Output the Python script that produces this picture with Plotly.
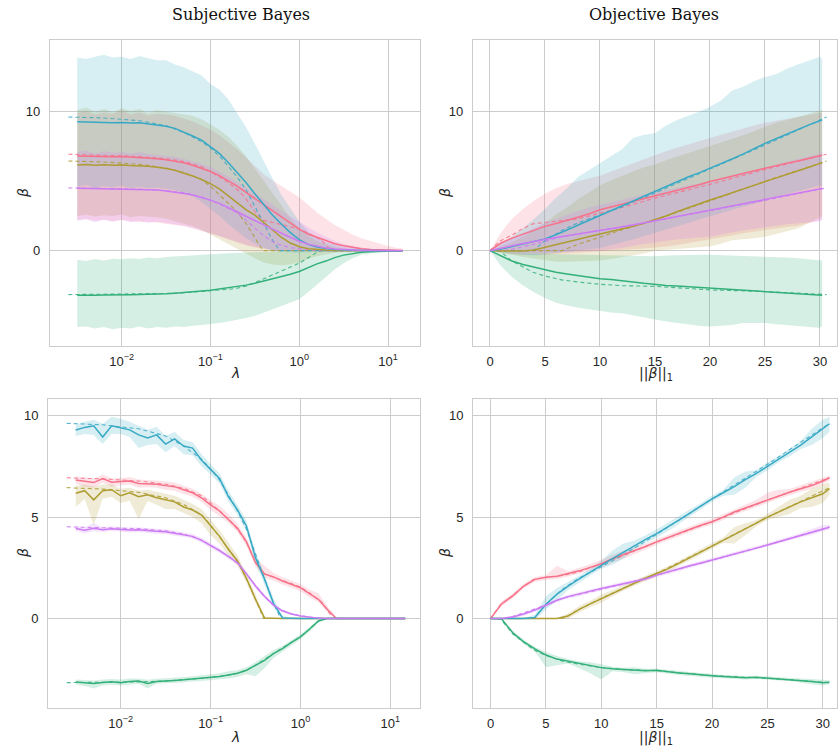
import plotly.graph_objects as go

# ---------------- colours (seaborn husl, 5) ----------------
COLORS = {"pink": "#f77189", "olive": "#ae9d31", "green": "#33b07a",
          "cyan": "#38a9c5", "purple": "#cc7af4"}
ORDER = ["pink", "olive", "green", "cyan", "purple"]

# ---------------- left panels: log10(lambda) grid ----------------
LOG_LAM = [-2.5, -2.4, -2.3, -2.2, -2.1, -2.0, -1.9, -1.8, -1.7, -1.6, -1.5, -1.4, -1.3,
           -1.2, -1.1, -1.0, -0.9, -0.8, -0.7, -0.6, -0.5, -0.4, -0.3, -0.2, -0.1, 0.0,
           0.1, 0.2, 0.3, 0.4, 0.5, 0.6, 0.7, 0.8, 0.9, 1.0, 1.1, 1.165]

# Top-left (subjective Bayes): posterior medians and bands
TL_CYAN = [9.28, 9.25, 9.22, 9.24, 9.2, 9.22, 9.18, 9.2, 9.12, 9.05, 8.95, 8.8, 8.55, 8.25, 7.95, 7.5, 7.0, 6.35, 5.65, 4.9, 4.1, 3.3, 2.55, 1.9, 1.3, 0.8, 0.45, 0.27, 0.15, 0.09, 0.05, 0.03, 0.02, 0.01, 0.01, 0.0, 0.0, 0.0]
TL_CYAN_HI = [13.9, 13.8, 13.95, 14.1, 13.9, 13.95, 13.8, 14.0, 13.85, 13.7, 13.7, 13.4, 13.2, 12.9, 12.6, 12.0, 11.6, 10.9, 9.9, 8.9, 7.7, 6.4, 5.2, 4.0, 3.0, 2.1, 1.4, 0.95, 0.6, 0.4, 0.25, 0.15, 0.1, 0.06, 0.04, 0.02, 0.01, 0.01]
TL_CYAN_LO = [4.6, 4.75, 4.5, 4.65, 4.55, 4.7, 4.5, 4.6, 4.5, 4.55, 4.45, 4.35, 4.15, 3.9, 3.5, 3.0, 2.5, 1.9, 1.4, 0.9, 0.5, 0.2, 0.0, -0.1, -0.15, -0.15, -0.12, -0.1, -0.07, -0.05, -0.03, -0.02, -0.02, -0.01, -0.01, -0.01, 0.0, 0.0]
TL_PINK = [6.82, 6.8, 6.78, 6.8, 6.76, 6.78, 6.74, 6.72, 6.7, 6.62, 6.55, 6.45, 6.32, 6.15, 5.95, 5.7, 5.4, 5.05, 4.65, 4.2, 3.75, 3.3, 2.85, 2.4, 1.95, 1.55, 1.2, 0.95, 0.72, 0.5, 0.35, 0.22, 0.14, 0.08, 0.05, 0.03, 0.01, 0.01]
TL_PINK_HI = [9.9, 10.05, 9.8, 9.95, 9.85, 10.1, 9.8, 9.95, 9.75, 9.85, 9.8, 9.7, 9.5, 9.3, 9.0, 8.7, 8.3, 7.8, 7.3, 6.7, 6.1, 5.5, 5.05, 4.65, 4.25, 3.85, 3.3, 2.75, 2.3, 1.85, 1.5, 1.15, 0.9, 0.7, 0.5, 0.33, 0.2, 0.15]
TL_PINK_LO = [2.2, 2.3, 2.15, 2.25, 2.1, 2.2, 2.15, 2.05, 2.1, 2.0, 1.95, 1.85, 1.75, 1.6, 1.45, 1.25, 1.05, 0.8, 0.58, 0.38, 0.22, 0.1, 0.03, -0.02, -0.04, -0.04, -0.04, -0.03, -0.03, -0.02, -0.02, -0.01, -0.01, -0.01, 0.0, 0.0, 0.0, 0.0]
TL_OLIVE = [6.17, 6.2, 6.15, 6.18, 6.14, 6.16, 6.12, 6.1, 6.08, 6.0, 5.92, 5.78, 5.6, 5.38, 5.12, 4.82, 4.45, 3.95, 3.45, 2.95, 2.55, 2.0, 1.45, 0.95, 0.55, 0.28, 0.14, 0.07, 0.04, 0.02, 0.01, 0.01, 0.0, 0.0, 0.0, 0.0, 0.0, 0.0]
TL_OLIVE_HI = [10.1, 10.3, 10.0, 10.2, 9.95, 10.25, 10.05, 10.2, 9.9, 10.1, 10.0, 9.9, 9.8, 9.7, 9.45, 9.1, 8.7, 8.2, 7.55, 6.8, 5.9, 5.0, 4.1, 3.2, 2.35, 1.6, 1.1, 0.7, 0.45, 0.25, 0.15, 0.08, 0.05, 0.03, 0.02, 0.01, 0.01, 0.0]
TL_OLIVE_LO = [2.5, 2.6, 2.45, 2.55, 2.5, 2.6, 2.4, 2.5, 2.45, 2.4, 2.3, 2.1, 1.95, 1.75, 1.5, 1.15, 0.8, 0.45, 0.15, -0.2, -0.55, -0.85, -1.0, -1.05, -1.0, -0.85, -0.6, -0.4, -0.25, -0.15, -0.08, -0.04, -0.02, -0.01, -0.01, 0.0, 0.0, 0.0]
TL_PURPLE = [4.5, 4.49, 4.48, 4.47, 4.46, 4.45, 4.44, 4.42, 4.4, 4.36, 4.3, 4.22, 4.12, 4.0, 3.84, 3.64, 3.4, 3.12, 2.8, 2.48, 2.15, 1.85, 1.55, 1.25, 0.95, 0.68, 0.47, 0.32, 0.2, 0.12, 0.07, 0.04, 0.02, 0.01, 0.01, 0.0, 0.0, 0.0]
TL_PURPLE_HI = [7.1, 7.2, 7.0, 7.15, 7.05, 7.1, 7.0, 7.1, 6.95, 6.9, 6.85, 6.75, 6.6, 6.45, 6.25, 6.0, 5.7, 5.35, 4.95, 4.55, 4.1, 3.7, 3.3, 2.85, 2.45, 2.05, 1.65, 1.3, 1.0, 0.72, 0.5, 0.34, 0.22, 0.14, 0.09, 0.05, 0.03, 0.02]
TL_PURPLE_LO = [2.15, 2.25, 2.05, 2.2, 2.1, 2.25, 2.05, 2.15, 2.0, 2.1, 2.0, 1.9, 1.8, 1.65, 1.5, 1.3, 1.1, 0.85, 0.65, 0.45, 0.28, 0.15, 0.06, 0.0, -0.03, -0.04, -0.04, -0.03, -0.02, -0.02, -0.01, -0.01, 0.0, 0.0, 0.0, 0.0, 0.0, 0.0]
TL_GREEN = [-3.2, -3.22, -3.2, -3.19, -3.2, -3.18, -3.17, -3.16, -3.15, -3.12, -3.1, -3.06, -3.02, -2.97, -2.9, -2.84, -2.76, -2.68, -2.6, -2.48, -2.35, -2.2, -2.05, -1.88, -1.7, -1.5, -1.22, -0.95, -0.75, -0.5, -0.32, -0.2, -0.12, -0.07, -0.04, -0.02, -0.01, 0.0]
TL_GREEN_HI = [-0.65, -0.75, -0.6, -0.7, -0.58, -0.62, -0.55, -0.6, -0.5, -0.55, -0.45, -0.42, -0.38, -0.35, -0.3, -0.28, -0.22, -0.18, -0.15, -0.12, -0.1, -0.08, -0.07, -0.06, -0.05, -0.04, -0.03, -0.03, -0.02, -0.02, -0.01, -0.01, -0.01, 0.0, 0.0, 0.0, 0.0, 0.0]
TL_GREEN_LO = [-5.5, -5.45, -5.6, -5.5, -5.65, -5.55, -5.6, -5.45, -5.6, -5.5, -5.55, -5.45, -5.5, -5.4, -5.35, -5.3, -5.2, -5.1, -5.0, -4.85, -4.7, -4.45, -4.2, -3.95, -3.75, -3.5, -3.0, -2.5, -1.9, -1.35, -0.9, -0.55, -0.3, -0.18, -0.1, -0.05, -0.02, -0.01]

# Bottom-left: estimates and narrow bands
BL_CYAN = [9.29, 9.42, 9.5, 8.95, 9.5, 9.4, 9.3, 9.05, 8.9, 9.05, 8.6, 8.85, 8.5, 8.4, 7.8, 7.35, 6.9, 6.0, 5.35, 4.55, 3.0, 1.95, 0.75, 0.03, 0, 0, 0, 0, 0, 0, 0, 0, 0, 0, 0, 0, 0, 0]
BL_CYAN_HI = [9.55, 9.7, 9.8, 9.6, 9.95, 9.85, 9.7, 9.5, 9.3, 9.45, 9.0, 9.2, 8.8, 8.7, 8.1, 7.6, 7.15, 6.3, 5.6, 4.8, 3.3, 2.2, 1.0, 0.15, 0.02, 0.01, 0, 0, 0, 0, 0, 0, 0, 0, 0, 0, 0, 0]
BL_CYAN_LO = [9.0, 9.1, 9.05, 8.6, 9.1, 9.1, 8.95, 8.4, 8.55, 8.6, 8.2, 8.5, 8.1, 8.05, 7.5, 7.1, 6.65, 5.75, 5.1, 4.3, 2.75, 1.7, 0.55, 0.0, 0, 0, 0, 0, 0, 0, 0, 0, 0, 0, 0, 0, 0, 0]
BL_PINK = [6.83, 6.75, 6.7, 6.9, 6.72, 6.75, 6.78, 6.66, 6.65, 6.62, 6.55, 6.5, 6.35, 6.2, 5.95, 5.6, 5.3, 4.9, 4.45, 3.78, 2.75, 2.2, 2.05, 1.85, 1.7, 1.52, 1.23, 0.95, 0.44, 0.0, 0, 0, 0, 0, 0, 0, 0, 0]
BL_PINK_HI = [7.0, 6.95, 6.9, 7.1, 6.92, 6.93, 6.97, 6.85, 6.83, 6.8, 6.75, 6.7, 6.55, 6.4, 6.15, 5.85, 5.55, 5.15, 4.65, 3.98, 2.95, 2.6, 2.25, 2.03, 1.88, 1.7, 1.42, 1.25, 0.6, 0.05, 0.01, 0, 0, 0, 0, 0, 0, 0]
BL_PINK_LO = [6.65, 6.5, 6.45, 6.7, 6.5, 6.57, 6.6, 6.45, 6.47, 6.44, 6.35, 6.3, 6.15, 6.0, 5.75, 5.35, 5.05, 4.7, 4.25, 3.58, 2.55, 2.0, 1.87, 1.67, 1.52, 1.34, 1.05, 0.8, 0.3, 0.0, 0, 0, 0, 0, 0, 0, 0, 0]
BL_OLIVE = [6.17, 6.3, 5.85, 6.3, 6.35, 6.05, 6.2, 6.0, 6.1, 5.95, 5.85, 5.75, 5.5, 5.35, 5.1, 4.55, 4.05, 3.4, 2.85, 1.97, 0.95, 0.03, 0, 0, 0, 0, 0, 0, 0, 0, 0, 0, 0, 0, 0, 0, 0, 0]
BL_OLIVE_HI = [6.55, 6.6, 6.5, 6.6, 6.6, 6.4, 6.45, 6.3, 6.35, 6.25, 6.15, 6.05, 5.85, 5.65, 5.4, 4.9, 4.35, 3.75, 3.1, 2.2, 1.2, 0.1, 0, 0, 0, 0, 0, 0, 0, 0, 0, 0, 0, 0, 0, 0, 0, 0]
BL_OLIVE_LO = [5.5, 5.9, 4.6, 5.9, 6.0, 5.7, 5.8, 4.9, 5.8, 5.6, 5.4, 5.4, 5.2, 5.0, 4.7, 4.1, 3.7, 3.1, 2.6, 1.75, 0.75, 0.0, 0, 0, 0, 0, 0, 0, 0, 0, 0, 0, 0, 0, 0, 0, 0, 0]
BL_PURPLE = [4.44, 4.35, 4.45, 4.38, 4.43, 4.4, 4.36, 4.38, 4.33, 4.3, 4.28, 4.2, 4.15, 4.05, 3.85, 3.6, 3.35, 3.05, 2.75, 2.2, 1.6, 1.1, 0.66, 0.38, 0.22, 0.13, 0.07, 0.02, 0, 0, 0, 0, 0, 0, 0, 0, 0, 0]
BL_PURPLE_HI = [4.56, 4.5, 4.7, 4.5, 4.55, 4.52, 4.48, 4.5, 4.45, 4.42, 4.4, 4.32, 4.27, 4.17, 3.97, 3.72, 3.47, 3.17, 2.87, 2.32, 1.72, 1.2, 0.74, 0.45, 0.27, 0.17, 0.1, 0.04, 0.01, 0, 0, 0, 0, 0, 0, 0, 0, 0]
BL_PURPLE_LO = [4.32, 4.2, 4.3, 4.26, 4.31, 4.28, 4.24, 4.26, 4.21, 4.18, 4.16, 4.08, 4.03, 3.93, 3.73, 3.48, 3.23, 2.93, 2.63, 2.08, 1.48, 1.0, 0.58, 0.31, 0.17, 0.09, 0.04, 0.0, 0, 0, 0, 0, 0, 0, 0, 0, 0, 0]
BL_GREEN = [-3.13, -3.18, -3.2, -3.15, -3.12, -3.16, -3.1, -3.08, -3.2, -3.1, -3.06, -3.05, -3.02, -2.98, -2.94, -2.9, -2.86, -2.78, -2.7, -2.55, -2.3, -2.06, -1.73, -1.48, -1.18, -0.9, -0.53, -0.12, 0, 0, 0, 0, 0, 0, 0, 0, 0, 0]
BL_GREEN_HI = [-3.0, -3.02, -3.05, -3.0, -2.98, -3.0, -2.95, -2.95, -3.02, -2.97, -2.93, -2.92, -2.88, -2.85, -2.8, -2.76, -2.7, -2.6, -2.55, -2.4, -2.15, -1.85, -1.55, -1.35, -1.05, -0.78, -0.42, -0.05, 0, 0, 0, 0, 0, 0, 0, 0, 0, 0]
BL_GREEN_LO = [-3.26, -3.32, -3.45, -3.3, -3.26, -3.3, -3.25, -3.22, -3.45, -3.22, -3.19, -3.18, -3.15, -3.11, -3.08, -3.04, -3.0, -2.95, -2.88, -2.75, -2.85, -2.45, -1.95, -1.62, -1.32, -1.02, -0.65, -0.2, 0, 0, 0, 0, 0, 0, 0, 0, 0, 0]

# Lasso path (dashed) against log10(lambda)
LASSO_LOG = [-2.6, -2.2, -1.8, -1.5, -1.3, -1.1, -1.0, -0.9, -0.8, -0.7, -0.6, -0.5, -0.41,
             -0.3, -0.22, -0.1, 0.0, 0.1, 0.2, 0.25, 0.36, 0.6, 1.165]
LASSO_CYAN = [9.62, 9.55, 9.35, 9.0, 8.5, 7.85, 7.38, 6.82, 6.08, 5.3, 4.4, 3.2, 2.05, 0.75, 0.0, 0, 0, 0, 0, 0, 0, 0, 0]
LASSO_PINK = [6.94, 6.88, 6.78, 6.62, 6.42, 6.05, 5.7, 5.32, 4.9, 4.4, 3.75, 2.8, 2.2, 2.05, 1.9, 1.72, 1.55, 1.27, 0.95, 0.75, 0.0, 0.0, 0.0]
LASSO_OLIVE = [6.45, 6.38, 6.22, 5.95, 5.62, 5.12, 4.62, 4.05, 3.42, 2.8, 1.95, 0.95, 0.0, 0, 0, 0, 0, 0, 0, 0, 0, 0, 0]
LASSO_PURPLE = [4.52, 4.49, 4.43, 4.32, 4.17, 3.87, 3.62, 3.36, 3.06, 2.72, 2.2, 1.6, 1.12, 0.66, 0.42, 0.22, 0.13, 0.07, 0.0, 0.0, 0.0, 0.0, 0.0]
LASSO_GREEN = [-3.16, -3.15, -3.12, -3.08, -3.03, -2.95, -2.9, -2.85, -2.78, -2.7, -2.55, -2.3, -2.06, -1.73, -1.5, -1.18, -0.9, -0.53, -0.12, 0.0, 0.0, 0.0, 0.0]

# ---------------- right panels: ||beta||_1 grid ----------------
TR_L1 = [0, 1, 2, 3, 4, 5, 6, 7, 8, 9, 10, 11, 12, 13, 14, 15, 16, 17, 18, 19, 20,
         21, 22, 23, 24, 25, 26, 27, 28, 29, 30, 30.2]
TR_CYAN = [0, 0.12, 0.3, 0.5, 0.7, 0.85, 1.15, 1.5, 1.85, 2.2, 2.5, 2.85, 3.2, 3.55, 3.9, 4.25, 4.6, 4.95, 5.3, 5.6, 5.92, 6.25, 6.6, 6.95, 7.35, 7.72, 8.05, 8.4, 8.72, 9.05, 9.35, 9.42]
TR_CYAN_HI = [0, 0.5, 1.0, 1.6, 2.3, 3.0, 3.8, 4.5, 5.3, 5.8, 6.3, 6.8, 7.3, 8.1, 8.35, 8.45, 9.0, 9.4, 9.7, 10.0, 10.36, 10.8, 11.5, 11.8, 12.2, 12.5, 12.7, 13.1, 13.4, 13.7, 13.95, 13.8]
TR_CYAN_LO = [0, -0.1, -0.2, -0.3, -0.35, -0.3, -0.2, -0.1, 0.0, 0.1, 0.2, 0.4, 0.6, 0.8, 1.0, 1.3, 1.5, 1.75, 2.0, 2.25, 2.5, 2.7, 2.95, 3.2, 3.4, 3.6, 3.85, 4.1, 4.3, 4.5, 4.7, 4.6]
TR_PINK = [0, 0.55, 0.9, 1.2, 1.5, 1.75, 1.95, 2.15, 2.4, 2.65, 2.94, 3.15, 3.35, 3.5, 3.7, 3.9, 4.1, 4.3, 4.55, 4.75, 4.98, 5.15, 5.35, 5.55, 5.75, 5.93, 6.1, 6.3, 6.45, 6.65, 6.82, 6.86]
TR_PINK_HI = [0, 1.3, 2.3, 3.0, 3.6, 4.1, 4.5, 4.8, 5.0, 5.2, 5.4, 5.7, 6.0, 6.3, 6.6, 6.9, 7.15, 7.4, 7.65, 7.9, 8.1, 8.35, 8.55, 8.8, 9.0, 9.2, 9.35, 9.5, 9.65, 9.8, 9.9, 9.9]
TR_PINK_LO = [0, -0.15, -0.25, -0.3, -0.3, -0.3, -0.25, -0.2, -0.15, -0.1, -0.1, 0.0, 0.05, 0.1, 0.15, 0.2, 0.3, 0.4, 0.55, 0.7, 0.8, 0.95, 1.1, 1.25, 1.4, 1.5, 1.6, 1.7, 1.8, 2.0, 2.2, 2.25]
TR_OLIVE = [0, -0.02, -0.04, -0.03, 0.05, 0.25, 0.45, 0.65, 0.85, 1.05, 1.2, 1.38, 1.55, 1.75, 1.98, 2.22, 2.5, 2.8, 3.1, 3.38, 3.65, 3.9, 4.15, 4.42, 4.7, 4.97, 5.22, 5.5, 5.75, 6.0, 6.28, 6.32]
TR_OLIVE_HI = [0, 0.3, 0.6, 1.0, 1.5, 2.0, 2.6, 3.1, 3.7, 4.2, 4.7, 5.05, 5.4, 5.7, 6.0, 6.2, 6.5, 6.75, 7.0, 7.25, 7.5, 7.75, 8.0, 8.3, 8.6, 8.9, 9.2, 9.4, 9.6, 9.85, 10.1, 10.1]
TR_OLIVE_LO = [0, -0.15, -0.3, -0.45, -0.6, -0.7, -0.8, -0.8, -0.8, -0.75, -0.7, -0.6, -0.5, -0.35, -0.2, 0.0, 0.1, 0.15, 0.2, 0.25, 0.3, 0.5, 0.75, 0.85, 0.9, 1.0, 1.2, 1.4, 1.6, 2.0, 2.4, 2.5]
TR_PURPLE = [0, 0.15, 0.35, 0.52, 0.68, 0.82, 0.95, 1.08, 1.2, 1.3, 1.42, 1.55, 1.7, 1.85, 2.0, 2.15, 2.3, 2.45, 2.62, 2.78, 2.94, 3.1, 3.25, 3.4, 3.55, 3.7, 3.85, 4.0, 4.15, 4.3, 4.45, 4.48]
TR_PURPLE_HI = [0, 0.5, 0.9, 1.3, 1.65, 2.0, 2.3, 2.6, 2.85, 3.1, 3.3, 3.5, 3.7, 3.9, 4.05, 4.2, 4.35, 4.5, 4.65, 4.8, 5.0, 5.2, 5.4, 5.6, 5.8, 6.0, 6.2, 6.4, 6.6, 6.8, 7.0, 7.1]
TR_PURPLE_LO = [0, -0.1, -0.15, -0.2, -0.2, -0.2, -0.15, -0.1, -0.05, 0.0, 0.0, 0.1, 0.2, 0.35, 0.5, 0.6, 0.7, 0.8, 0.9, 0.95, 1.0, 1.15, 1.3, 1.45, 1.6, 1.7, 1.8, 1.9, 2.0, 2.05, 2.1, 2.15]
TR_GREEN = [0, -0.4, -0.75, -1.0, -1.2, -1.38, -1.55, -1.68, -1.8, -1.92, -2.02, -2.08, -2.15, -2.25, -2.35, -2.45, -2.5, -2.55, -2.6, -2.64, -2.68, -2.72, -2.75, -2.8, -2.86, -2.92, -2.96, -3.0, -3.06, -3.12, -3.16, -3.2]
TR_GREEN_HI = [0, -0.1, -0.15, -0.2, -0.22, -0.25, -0.27, -0.28, -0.29, -0.3, -0.3, -0.32, -0.35, -0.38, -0.4, -0.4, -0.35, -0.32, -0.3, -0.3, -0.29, -0.32, -0.35, -0.38, -0.4, -0.4, -0.45, -0.5, -0.55, -0.6, -0.65, -0.7]
TR_GREEN_LO = [0, -1.1, -1.9, -2.5, -3.0, -3.4, -3.75, -3.95, -4.1, -4.25, -4.35, -4.45, -4.5, -4.6, -4.8, -4.95, -5.1, -5.25, -5.3, -5.4, -5.45, -5.4, -5.35, -5.2, -5.2, -5.2, -5.3, -5.35, -5.4, -5.5, -5.55, -5.4]

BR_L1 = [0, 1, 2, 3, 4, 5, 6, 7, 8, 9, 10, 11, 12, 13, 14, 15, 16, 17, 18, 19, 20,
         21, 22, 23, 24, 25, 26, 27, 28, 29, 30, 30.6]
BR_PINK = [0, 0.72, 1.12, 1.6, 1.93, 2.03, 2.08, 2.2, 2.35, 2.52, 2.7, 2.95, 3.15, 3.33, 3.55, 3.78, 4.0, 4.2, 4.4, 4.6, 4.77, 5.0, 5.25, 5.45, 5.65, 5.84, 6.05, 6.22, 6.4, 6.55, 6.78, 6.94]
BR_PINK_HI = [0, 0.85, 1.25, 1.72, 2.05, 2.15, 2.6, 2.33, 2.5, 2.68, 2.9, 3.15, 3.35, 3.5, 3.7, 3.92, 4.14, 4.34, 4.54, 4.74, 4.9, 5.14, 5.4, 5.6, 5.85, 6.2, 6.35, 6.38, 6.55, 6.75, 6.95, 7.05]
BR_PINK_LO = [0, 0.6, 1.0, 1.48, 1.81, 1.9, 1.95, 2.07, 2.2, 2.36, 2.5, 2.75, 2.95, 3.16, 3.4, 3.64, 3.86, 4.06, 4.26, 4.46, 4.63, 4.86, 5.1, 5.3, 5.5, 5.7, 5.9, 6.06, 6.25, 6.38, 6.6, 6.8]
BR_CYAN = [0, 0, 0, 0, 0.05, 0.7, 1.2, 1.6, 1.95, 2.3, 2.62, 2.95, 3.28, 3.6, 3.9, 4.18, 4.5, 4.85, 5.2, 5.55, 5.9, 6.2, 6.5, 6.85, 7.15, 7.5, 7.85, 8.2, 8.55, 8.95, 9.35, 9.6]
BR_CYAN_HI = [0, 0, 0, 0.02, 0.2, 1.1, 1.5, 1.8, 2.12, 2.45, 2.85, 3.35, 3.7, 3.85, 4.1, 4.4, 4.72, 5.05, 5.38, 5.7, 6.05, 6.35, 6.95, 7.25, 7.32, 7.7, 8.0, 8.38, 8.75, 9.35, 9.8, 9.95]
BR_CYAN_LO = [0, 0, 0, -0.02, -0.05, 0.45, 0.9, 1.4, 1.78, 2.12, 2.45, 2.65, 2.95, 3.4, 3.72, 3.98, 4.3, 4.65, 5.02, 5.38, 5.75, 6.05, 6.1, 6.45, 6.98, 7.3, 7.7, 8.0, 8.35, 8.55, 8.9, 9.2]
BR_OLIVE = [0, 0, 0, 0, 0, 0, 0, 0.12, 0.45, 0.72, 0.98, 1.25, 1.5, 1.75, 2.0, 2.22, 2.45, 2.72, 3.0, 3.3, 3.58, 3.85, 4.1, 4.4, 4.7, 5.0, 5.25, 5.5, 5.75, 5.95, 6.15, 6.4]
BR_OLIVE_HI = [0, 0.01, 0.01, 0.01, 0.01, 0.01, 0.02, 0.25, 0.62, 0.88, 1.18, 1.4, 1.63, 1.88, 2.12, 2.35, 2.58, 2.85, 3.15, 3.45, 3.72, 3.98, 4.5, 4.7, 4.85, 5.15, 5.5, 5.85, 6.05, 6.4, 6.6, 6.7]
BR_OLIVE_LO = [0, -0.01, -0.01, -0.01, -0.01, -0.01, -0.02, 0.0, 0.3, 0.57, 0.78, 1.1, 1.37, 1.62, 1.88, 2.09, 2.32, 2.59, 2.85, 3.15, 3.44, 3.72, 3.7, 4.1, 4.55, 4.85, 5.0, 5.15, 5.45, 5.5, 5.7, 6.1]
BR_PURPLE = [0, 0, 0.08, 0.22, 0.42, 0.65, 0.9, 1.08, 1.2, 1.35, 1.48, 1.6, 1.72, 1.82, 1.95, 2.14, 2.3, 2.45, 2.6, 2.74, 2.88, 3.02, 3.17, 3.32, 3.47, 3.62, 3.78, 3.95, 4.1, 4.27, 4.44, 4.5]
BR_PURPLE_HI = [0, 0.01, 0.15, 0.3, 0.5, 0.74, 0.98, 1.17, 1.3, 1.45, 1.58, 1.7, 1.82, 1.92, 2.05, 2.24, 2.4, 2.55, 2.7, 2.84, 2.98, 3.12, 3.27, 3.42, 3.57, 3.72, 3.88, 4.05, 4.22, 4.42, 4.6, 4.62]
BR_PURPLE_LO = [0, -0.01, 0.01, 0.14, 0.34, 0.56, 0.82, 0.99, 1.1, 1.25, 1.38, 1.5, 1.62, 1.72, 1.85, 2.04, 2.2, 2.35, 2.5, 2.64, 2.78, 2.92, 3.07, 3.22, 3.37, 3.52, 3.68, 3.85, 4.0, 4.12, 4.3, 4.38]
BR_GREEN = [0, -0.02, -0.7, -1.15, -1.5, -1.8, -2.0, -2.1, -2.22, -2.3, -2.42, -2.48, -2.52, -2.55, -2.58, -2.55, -2.62, -2.68, -2.72, -2.78, -2.82, -2.86, -2.88, -2.92, -2.9, -2.94, -2.96, -3.0, -3.05, -3.1, -3.16, -3.14]
BR_GREEN_HI = [0, 0.0, -0.6, -1.05, -1.4, -1.65, -1.85, -2.0, -2.1, -2.15, -2.25, -2.38, -2.42, -2.4, -2.48, -2.47, -2.52, -2.58, -2.62, -2.68, -2.72, -2.78, -2.8, -2.84, -2.82, -2.86, -2.88, -2.92, -2.96, -2.98, -3.04, -3.04]
BR_GREEN_LO = [0, -0.05, -0.8, -1.25, -1.62, -2.4, -2.3, -2.22, -2.45, -2.7, -3.0, -2.6, -2.65, -2.75, -2.7, -2.65, -2.72, -2.78, -2.82, -2.88, -2.92, -2.94, -2.96, -3.0, -2.98, -3.02, -3.05, -3.08, -3.15, -3.24, -3.3, -3.25]

# Lasso path (dashed) against ||beta||_1
LASSO_L1 = [0, 0.9, 2, 3, 3.9, 5, 6.5, 8, 10, 12, 15, 20, 25, 30.6]
L1_PINK = [0, 0.7, 1.12, 1.6, 1.93, 2.03, 2.12, 2.3, 2.7, 3.1, 3.78, 4.77, 5.84, 6.94]
L1_GREEN = [0, -0.02, -0.75, -1.18, -1.55, -1.82, -2.1, -2.25, -2.42, -2.52, -2.57, -2.82, -2.94, -3.16]
L1_PURPLE = [0, 0, 0.1, 0.28, 0.45, 0.66, 1.0, 1.2, 1.45, 1.7, 2.14, 2.88, 3.62, 4.52]
L1_CYAN = [0, 0, 0, 0, 0, 0.7, 1.45, 2.0, 2.55, 3.15, 4.15, 5.9, 7.6, 9.62]
L1_OLIVE = [0, 0, 0, 0, 0, 0, 0, 0.45, 1.0, 1.5, 2.22, 3.58, 5.0, 6.45]

# ---------------- assemble ----------------
LAM = [10 ** v for v in LOG_LAM]
LASSO_LAM = [10 ** v for v in LASSO_LOG]

panels = {
    "TL": dict(x=LAM, ax=("x", "y"),
               mean={"pink": TL_PINK, "olive": TL_OLIVE, "green": TL_GREEN, "cyan": TL_CYAN, "purple": TL_PURPLE},
               hi={"pink": TL_PINK_HI, "olive": TL_OLIVE_HI, "green": TL_GREEN_HI, "cyan": TL_CYAN_HI, "purple": TL_PURPLE_HI},
               lo={"pink": TL_PINK_LO, "olive": TL_OLIVE_LO, "green": TL_GREEN_LO, "cyan": TL_CYAN_LO, "purple": TL_PURPLE_LO},
               dx=LASSO_LAM,
               dash={"pink": LASSO_PINK, "olive": LASSO_OLIVE, "green": LASSO_GREEN, "cyan": LASSO_CYAN, "purple": LASSO_PURPLE}),
    "TR": dict(x=TR_L1, ax=("x2", "y2"),
               mean={"pink": TR_PINK, "olive": TR_OLIVE, "green": TR_GREEN, "cyan": TR_CYAN, "purple": TR_PURPLE},
               hi={"pink": TR_PINK_HI, "olive": TR_OLIVE_HI, "green": TR_GREEN_HI, "cyan": TR_CYAN_HI, "purple": TR_PURPLE_HI},
               lo={"pink": TR_PINK_LO, "olive": TR_OLIVE_LO, "green": TR_GREEN_LO, "cyan": TR_CYAN_LO, "purple": TR_PURPLE_LO},
               dx=LASSO_L1,
               dash={"pink": L1_PINK, "olive": L1_OLIVE, "green": L1_GREEN, "cyan": L1_CYAN, "purple": L1_PURPLE}),
    "BL": dict(x=LAM, ax=("x3", "y3"),
               mean={"pink": BL_PINK, "olive": BL_OLIVE, "green": BL_GREEN, "cyan": BL_CYAN, "purple": BL_PURPLE},
               hi={"pink": BL_PINK_HI, "olive": BL_OLIVE_HI, "green": BL_GREEN_HI, "cyan": BL_CYAN_HI, "purple": BL_PURPLE_HI},
               lo={"pink": BL_PINK_LO, "olive": BL_OLIVE_LO, "green": BL_GREEN_LO, "cyan": BL_CYAN_LO, "purple": BL_PURPLE_LO},
               dx=LASSO_LAM,
               dash={"pink": LASSO_PINK, "olive": LASSO_OLIVE, "green": LASSO_GREEN, "cyan": LASSO_CYAN, "purple": LASSO_PURPLE}),
    "BR": dict(x=BR_L1, ax=("x4", "y4"),
               mean={"pink": BR_PINK, "olive": BR_OLIVE, "green": BR_GREEN, "cyan": BR_CYAN, "purple": BR_PURPLE},
               hi={"pink": BR_PINK_HI, "olive": BR_OLIVE_HI, "green": BR_GREEN_HI, "cyan": BR_CYAN_HI, "purple": BR_PURPLE_HI},
               lo={"pink": BR_PINK_LO, "olive": BR_OLIVE_LO, "green": BR_GREEN_LO, "cyan": BR_CYAN_LO, "purple": BR_PURPLE_LO},
               dx=LASSO_L1,
               dash={"pink": L1_PINK, "olive": L1_OLIVE, "green": L1_GREEN, "cyan": L1_CYAN, "purple": L1_PURPLE}),
}

for name, p in panels.items():
    n = len(p["x"])
    for c in ORDER:
        for key in ("mean", "hi", "lo"):
            assert len(p[key][c]) == n, (name, c, key, len(p[key][c]), n)
        assert len(p["dash"][c]) == len(p["dx"]), (name, c, "dash")


def rgba(hexc, a):
    h = hexc.lstrip("#")
    return "rgba(%d,%d,%d,%.2f)" % (int(h[0:2], 16), int(h[2:4], 16), int(h[4:6], 16), a)


fig = go.Figure()
for name, p in panels.items():
    xa, ya = p["ax"]
    xs = p["x"]
    for c in ORDER:
        fig.add_trace(go.Scatter(
            x=list(xs) + list(xs)[::-1], y=list(p["hi"][c]) + list(p["lo"][c])[::-1],
            xaxis=xa, yaxis=ya, mode="lines", fill="toself",
            fillcolor=rgba(COLORS[c], 0.2), line=dict(width=0), hoverinfo="skip",
            showlegend=False))
    for c in ORDER:
        fig.add_trace(go.Scatter(
            x=p["dx"], y=p["dash"][c], xaxis=xa, yaxis=ya, mode="lines",
            line=dict(color=COLORS[c], width=1.1, dash="4px,3px"), opacity=0.85,
            showlegend=False))
    for c in ORDER:
        fig.add_trace(go.Scatter(
            x=xs, y=p["mean"][c], xaxis=xa, yaxis=ya, mode="lines",
            line=dict(color=COLORS[c], width=1.5), showlegend=False))

W, H = 838, 747
GRID = "#cccccc"
TICKFONT = dict(family="Liberation Sans, Arial, sans-serif", size=13, color="#262626")


def xd(a, b):
    return [a / W, b / W]


def yd(top, bottom):
    return [1 - bottom / H, 1 - top / H]


common = dict(showgrid=True, gridcolor=GRID, gridwidth=1, zeroline=False,
              showline=True, linecolor=GRID, linewidth=1.25, mirror=True,
              ticks="", tickfont=TICKFONT)

LOG_TICKS = [0.01, 0.1, 1, 10]
LOG_TEXT = ["10<sup>\u22122</sup>", "10<sup>\u22121</sup>", "10<sup>0</sup>", "10<sup>1</sup>"]
L1_TICKS = [0, 5, 10, 15, 20, 25, 30]

fig.update_layout(
    width=W, height=H, margin=dict(l=0, r=0, t=0, b=0),
    paper_bgcolor="white", plot_bgcolor="white", showlegend=False,
    xaxis=dict(domain=xd(50, 420), type="log", range=[-2.807, 1.36], anchor="y",
               tickvals=LOG_TICKS, ticktext=LOG_TEXT, ticklabelstandoff=3, **common),
    yaxis=dict(domain=yd(40, 346), range=[-6.86, 15.16], anchor="x",
               tickvals=[0, 10], ticktext=["0", "10"], ticklabelstandoff=6, **common),
    xaxis2=dict(domain=xd(473, 837), range=[-1.545, 31.55], anchor="y2",
                tickvals=L1_TICKS, ticklabelstandoff=3, **common),
    yaxis2=dict(domain=yd(40, 346), range=[-6.86, 15.16], anchor="x2",
                tickvals=[0, 10], ticktext=["0", "10"], ticklabelstandoff=6, **common),
    xaxis3=dict(domain=xd(48.3, 420), type="log", range=[-2.805, 1.33], anchor="y3",
                tickvals=LOG_TICKS, ticktext=LOG_TEXT, ticklabelstandoff=3, **common),
    yaxis3=dict(domain=yd(399, 708), range=[-4.41, 10.82], anchor="x3",
                tickvals=[0, 5, 10], ticktext=["0", "5", "10"], ticklabelstandoff=6, **common),
    xaxis4=dict(domain=xd(473.3, 837), range=[-1.56, 31.28], anchor="y4",
                tickvals=L1_TICKS, ticklabelstandoff=3, **common),
    yaxis4=dict(domain=yd(399, 708), range=[-4.41, 10.82], anchor="x4",
                tickvals=[0, 5, 10], ticktext=["0", "5", "10"], ticklabelstandoff=6, **common),
)

LABFONT = dict(family="DejaVu Sans, sans-serif", size=14, color="#262626")
TITLEFONT = dict(family="DejaVu Serif, serif", size=16, color="#111111")


def ann(text, x, y, font, angle=0):
    fig.add_annotation(text=text, x=x / W, y=1 - y / H, xref="paper", yref="paper",
                       showarrow=False, font=font, textangle=angle,
                       xanchor="center", yanchor="middle")


ann("Subjective Bayes", 241, 14, TITLEFONT)
ann("Objective Bayes", 654, 14, TITLEFONT)
ann("<i>\u03bb</i>", 235, 373, LABFONT)
ann("||<i>\u03b2</i>||<sub>1</sub>", 656, 374, LABFONT)
ann("<i>\u03bb</i>", 235, 737, LABFONT)
ann("||<i>\u03b2</i>||<sub>1</sub>", 656, 738, LABFONT)
ann("<i>\u03b2</i>", 23, 193, LABFONT, -90)
ann("<i>\u03b2</i>", 445, 193, LABFONT, -90)
ann("<i>\u03b2</i>", 23, 553, LABFONT, -90)
ann("<i>\u03b2</i>", 445, 553, LABFONT, -90)

fig.write_html(
    "out.html",
    config={"displayModeBar": False},
    post_script="document.body.style.margin='0';document.body.style.padding='0';"
                "document.body.style.overflow='hidden';",
)
